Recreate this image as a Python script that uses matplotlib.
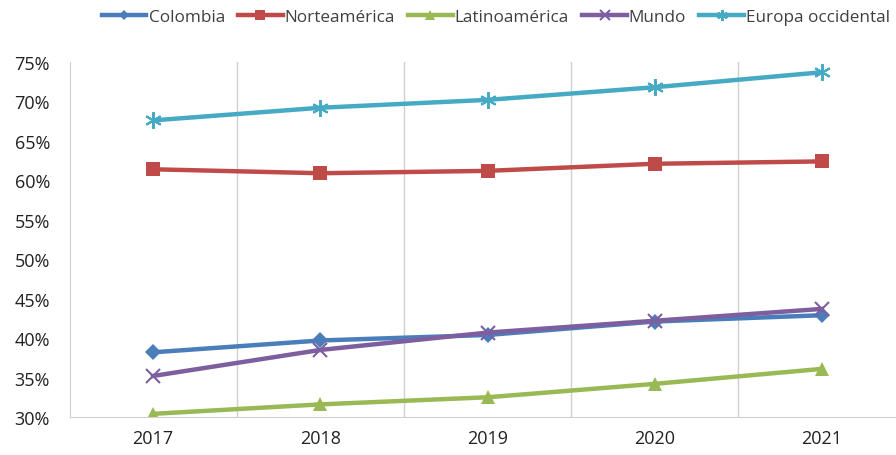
import matplotlib
import matplotlib.pyplot as plt
import numpy as np

matplotlib.rcParams["font.family"] = ["Open Sans", "DejaVu Sans"]

years = ["2017", "2018", "2019", "2020", "2021"]
colombia = [38.2, 39.7, 40.4, 42.1, 42.9]
norteamerica = [61.4, 60.9, 61.2, 62.1, 62.4]
latinoamerica = [30.4, 31.6, 32.5, 34.2, 36.1]
mundo = [35.2, 38.5, 40.7, 42.2, 43.7]
europa = [67.6, 69.2, 70.2, 71.8, 73.7]

series = [
    ("Colombia", colombia, "#4a7ebb", "D", 8),
    ("Norteamérica", norteamerica, "#be4b48", "s", 10),
    ("Latinoamérica", latinoamerica, "#98b954", "^", 10),
    ("Mundo", mundo, "#7d5fa0", "x", 10),
    ("Europa occidental", europa, "#46aac5", (6, 2, 0), 12),
]

fig = plt.figure(figsize=(8.96, 4.56), dpi=100)
ax = fig.add_axes([69.5 / 896, 38 / 456, 836 / 896, 355 / 456])

x = np.arange(len(years))
for label, vals, color, marker, ms in series:
    kw = dict(markeredgewidth=1.5) if marker in ("x", (6, 2, 0)) else dict(markeredgewidth=0)
    ax.plot(x, vals, color=color, linewidth=3.2, marker=marker, markersize=ms,
            markeredgecolor=color, label=label, **kw)

ax.set_xlim(-0.5, len(years) - 0.5)
ax.set_ylim(30, 75)
ax.set_yticks(np.arange(30, 76, 5))
ax.set_yticklabels([f"{v}%" for v in range(30, 76, 5)])
ax.set_xticks(x)
ax.set_xticklabels(years)
ax.set_xticks(x[:-1] + 0.5, minor=True)
ax.grid(True, axis="x", which="minor", color="#d0d0d0", linewidth=1)
ax.tick_params(axis="both", which="both", length=0, labelsize=13, colors="#222222")
ax.tick_params(axis="x", pad=9)
ax.tick_params(axis="y", pad=14)
for side in ("top", "right"):
    ax.spines[side].set_visible(False)
for side in ("left", "bottom"):
    ax.spines[side].set_color("#d0d0d0")

leg = ax.legend(ncol=5, loc="center", bbox_to_anchor=(496 / 896, 1 - 18 / 456), bbox_transform=fig.transFigure,
                frameon=False, fontsize=12.3, handlelength=2.6, columnspacing=0.78, handletextpad=0.12,
                markerscale=0.65, borderaxespad=0, borderpad=0)
for t in leg.get_texts():
    t.set_color("#404040")

fig.savefig("out.png")
